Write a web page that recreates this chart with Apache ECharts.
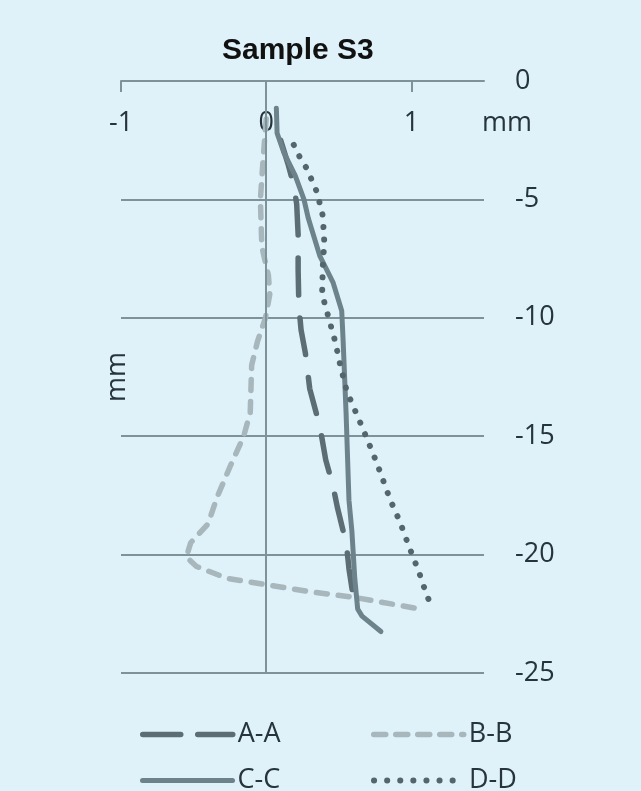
<!DOCTYPE html>
<html>
<head>
<meta charset="utf-8">
<script src="https://cdn.jsdelivr.net/npm/echarts@6/dist/echarts.min.js"></script>
<style>
html,body{margin:0;padding:0;background:#dff1f9;}
#chart{width:641px;height:791px;}
</style>
</head>
<body>
<div id="chart"></div>
<script>
const titleText = 'Sample S3';
const seriesNames = ['A-A', 'B-B', 'C-C', 'D-D'];
const xTicks = [-1, 0, 1];
const yTicks = [0, -5, -10, -15, -20, -25];

const aaDepth = [-2.5, -3.5, -4.4, -5.2, -6.5, -8.0, -9.5, -10.5, -11.5, -13.0, -14.6, -16.0, -17.1, -18.0, -19.0, -19.7, -20.6, -22.2];
const aaDisp  = [0.10, 0.15, 0.19, 0.21, 0.22, 0.22, 0.225, 0.24, 0.27, 0.30, 0.37, 0.41, 0.46, 0.49, 0.53, 0.555, 0.57, 0.61];

const bbDepth = [-1.6, -3.2, -5.0, -7.0, -8.2, -9.0, -10.0, -11.0, -12.0, -14.0, -15.0, -16.3, -17.6, -18.7, -19.5, -20.1, -20.5, -21.0, -21.25, -21.55, -21.8, -22.3];
const bbDisp  = [0.00, -0.02, -0.04, -0.03, 0.015, 0.025, -0.005, -0.06, -0.10, -0.11, -0.155, -0.25, -0.34, -0.40, -0.52, -0.55, -0.48, -0.27, -0.02, 0.28, 0.60, 1.06];

const ccDepth = [-1.15, -2.2, -3.0, -4.0, -5.0, -5.8, -6.4, -7.4, -8.5, -9.7, -11.0, -14.0, -17.7, -19.0, -21.0, -22.3, -22.6, -23.25];
const ccDisp  = [0.07, 0.075, 0.12, 0.20, 0.26, 0.29, 0.32, 0.37, 0.46, 0.52, 0.53, 0.55, 0.57, 0.59, 0.61, 0.63, 0.66, 0.79];

const ddDepth = [-2.7, -3.2, -3.7, -4.2, -4.7, -5.2, -5.7, -6.8, -7.8, -9.0, -10.0, -11.0, -12.0, -13.1, -14.6, -16.1, -17.7, -18.6, -19.6, -20.7, -21.7, -22.2];
const ddDisp  = [0.19, 0.23, 0.28, 0.315, 0.35, 0.37, 0.39, 0.40, 0.39, 0.385, 0.43, 0.475, 0.51, 0.555, 0.66, 0.76, 0.855, 0.92, 0.98, 1.05, 1.105, 1.14];

function pairs(xs, ys) { return xs.map((x, i) => [x, ys[i]]); }

const gridColor = '#7d9299';
const textColor = '#26343b';
const font = 'Open Sans';
const colors = ['#5c6d74', '#a7b7bc', '#6d838c', '#55656c'];
const lineStyles = [
  {width: 5.5, type: [37, 23], cap: 'round'},
  {width: 5.5, type: [11, 11], cap: 'round'},
  {width: 5, type: 'solid', cap: 'round'},
  {width: 6, type: [0.1, 12.5], cap: 'round'}
];
const legendDash = [[38, 17], [12, 10], 'solid', [0.1, 13]];
const dataSets = [pairs(aaDisp, aaDepth), pairs(bbDisp, bbDepth), pairs(ccDisp, ccDepth), pairs(ddDisp, ddDepth)];

const legendPos = [[140, 721], [371, 721], [140, 767], [371, 767]];
const legends = seriesNames.map((n, i) => ({
  data: [n],
  left: legendPos[i][0], top: legendPos[i][1],
  padding: 0,
  itemWidth: 90, itemHeight: 28,
  textStyle: {fontFamily: font, fontSize: 27, color: textColor},
  itemStyle: {opacity: 0, borderWidth: 0},
  lineStyle: Object.assign({}, lineStyles[i], {color: colors[i], type: legendDash[i]}),
  selectedMode: false
}));

const chart = echarts.init(document.getElementById('chart'));
chart.setOption({
  animation: false,
  backgroundColor: '#dff1f9',
  title: {
    text: titleText, left: 222, top: 36, padding: 0,
    textStyle: {fontFamily: 'Liberation Sans', fontWeight: 'bold', fontSize: 30, color: '#111'}
  },
  legend: legends,
  grid: {left: 121, right: 157, top: 81, bottom: 118, containLabel: false},
  xAxis: {
    type: 'value', position: 'top', min: -1, max: 1.5, interval: 1,
    name: 'mm', nameLocation: 'end', nameGap: -2,
    nameTextStyle: {fontFamily: font, fontSize: 27, color: textColor, align: 'left', verticalAlign: 'top', padding: [29, 0, 0, 0]},
    axisLine: {show: true, onZero: false, lineStyle: {color: gridColor, width: 2}},
    axisTick: {show: true, inside: true, length: 11, customValues: xTicks, lineStyle: {color: gridColor, width: 2}},
    axisLabel: {inside: true, margin: 29, customValues: xTicks, fontFamily: font, fontSize: 27, color: textColor},
    splitLine: {show: false}
  },
  yAxis: [{
    type: 'value', position: 'right', min: -25, max: 0, interval: 5,
    axisLine: {show: false}, axisTick: {show: false},
    axisLabel: {margin: 31, fontFamily: font, fontSize: 27, color: textColor},
    splitLine: {show: true, lineStyle: {color: gridColor, width: 2}}
  }, {
    type: 'value', position: 'left', min: -25, max: 0, interval: 5,
    name: 'mm', nameLocation: 'middle', nameRotate: 90, nameGap: -10,
    nameTextStyle: {fontFamily: font, fontSize: 27, color: textColor},
    axisLine: {show: false}, axisTick: {show: false}, axisLabel: {show: false}, splitLine: {show: false}
  }],
  series: seriesNames.map((n, i) => {
    const s = {
      name: n, type: 'line', data: dataSets[i], symbol: 'none', smooth: false,
      yAxisIndex: 0, z: 3 + i,
      itemStyle: {color: colors[i]},
      lineStyle: Object.assign({}, lineStyles[i], {color: colors[i]})
    };
    if (i === 0) {
      s.markLine = {
        silent: true, symbol: ['none', 'none'], label: {show: false},
        lineStyle: {color: gridColor, width: 2, type: 'solid'},
        emphasis: {disabled: true},
        data: [{xAxis: 0}]
      };
    }
    return s;
  })
});
</script>
</body>
</html>
